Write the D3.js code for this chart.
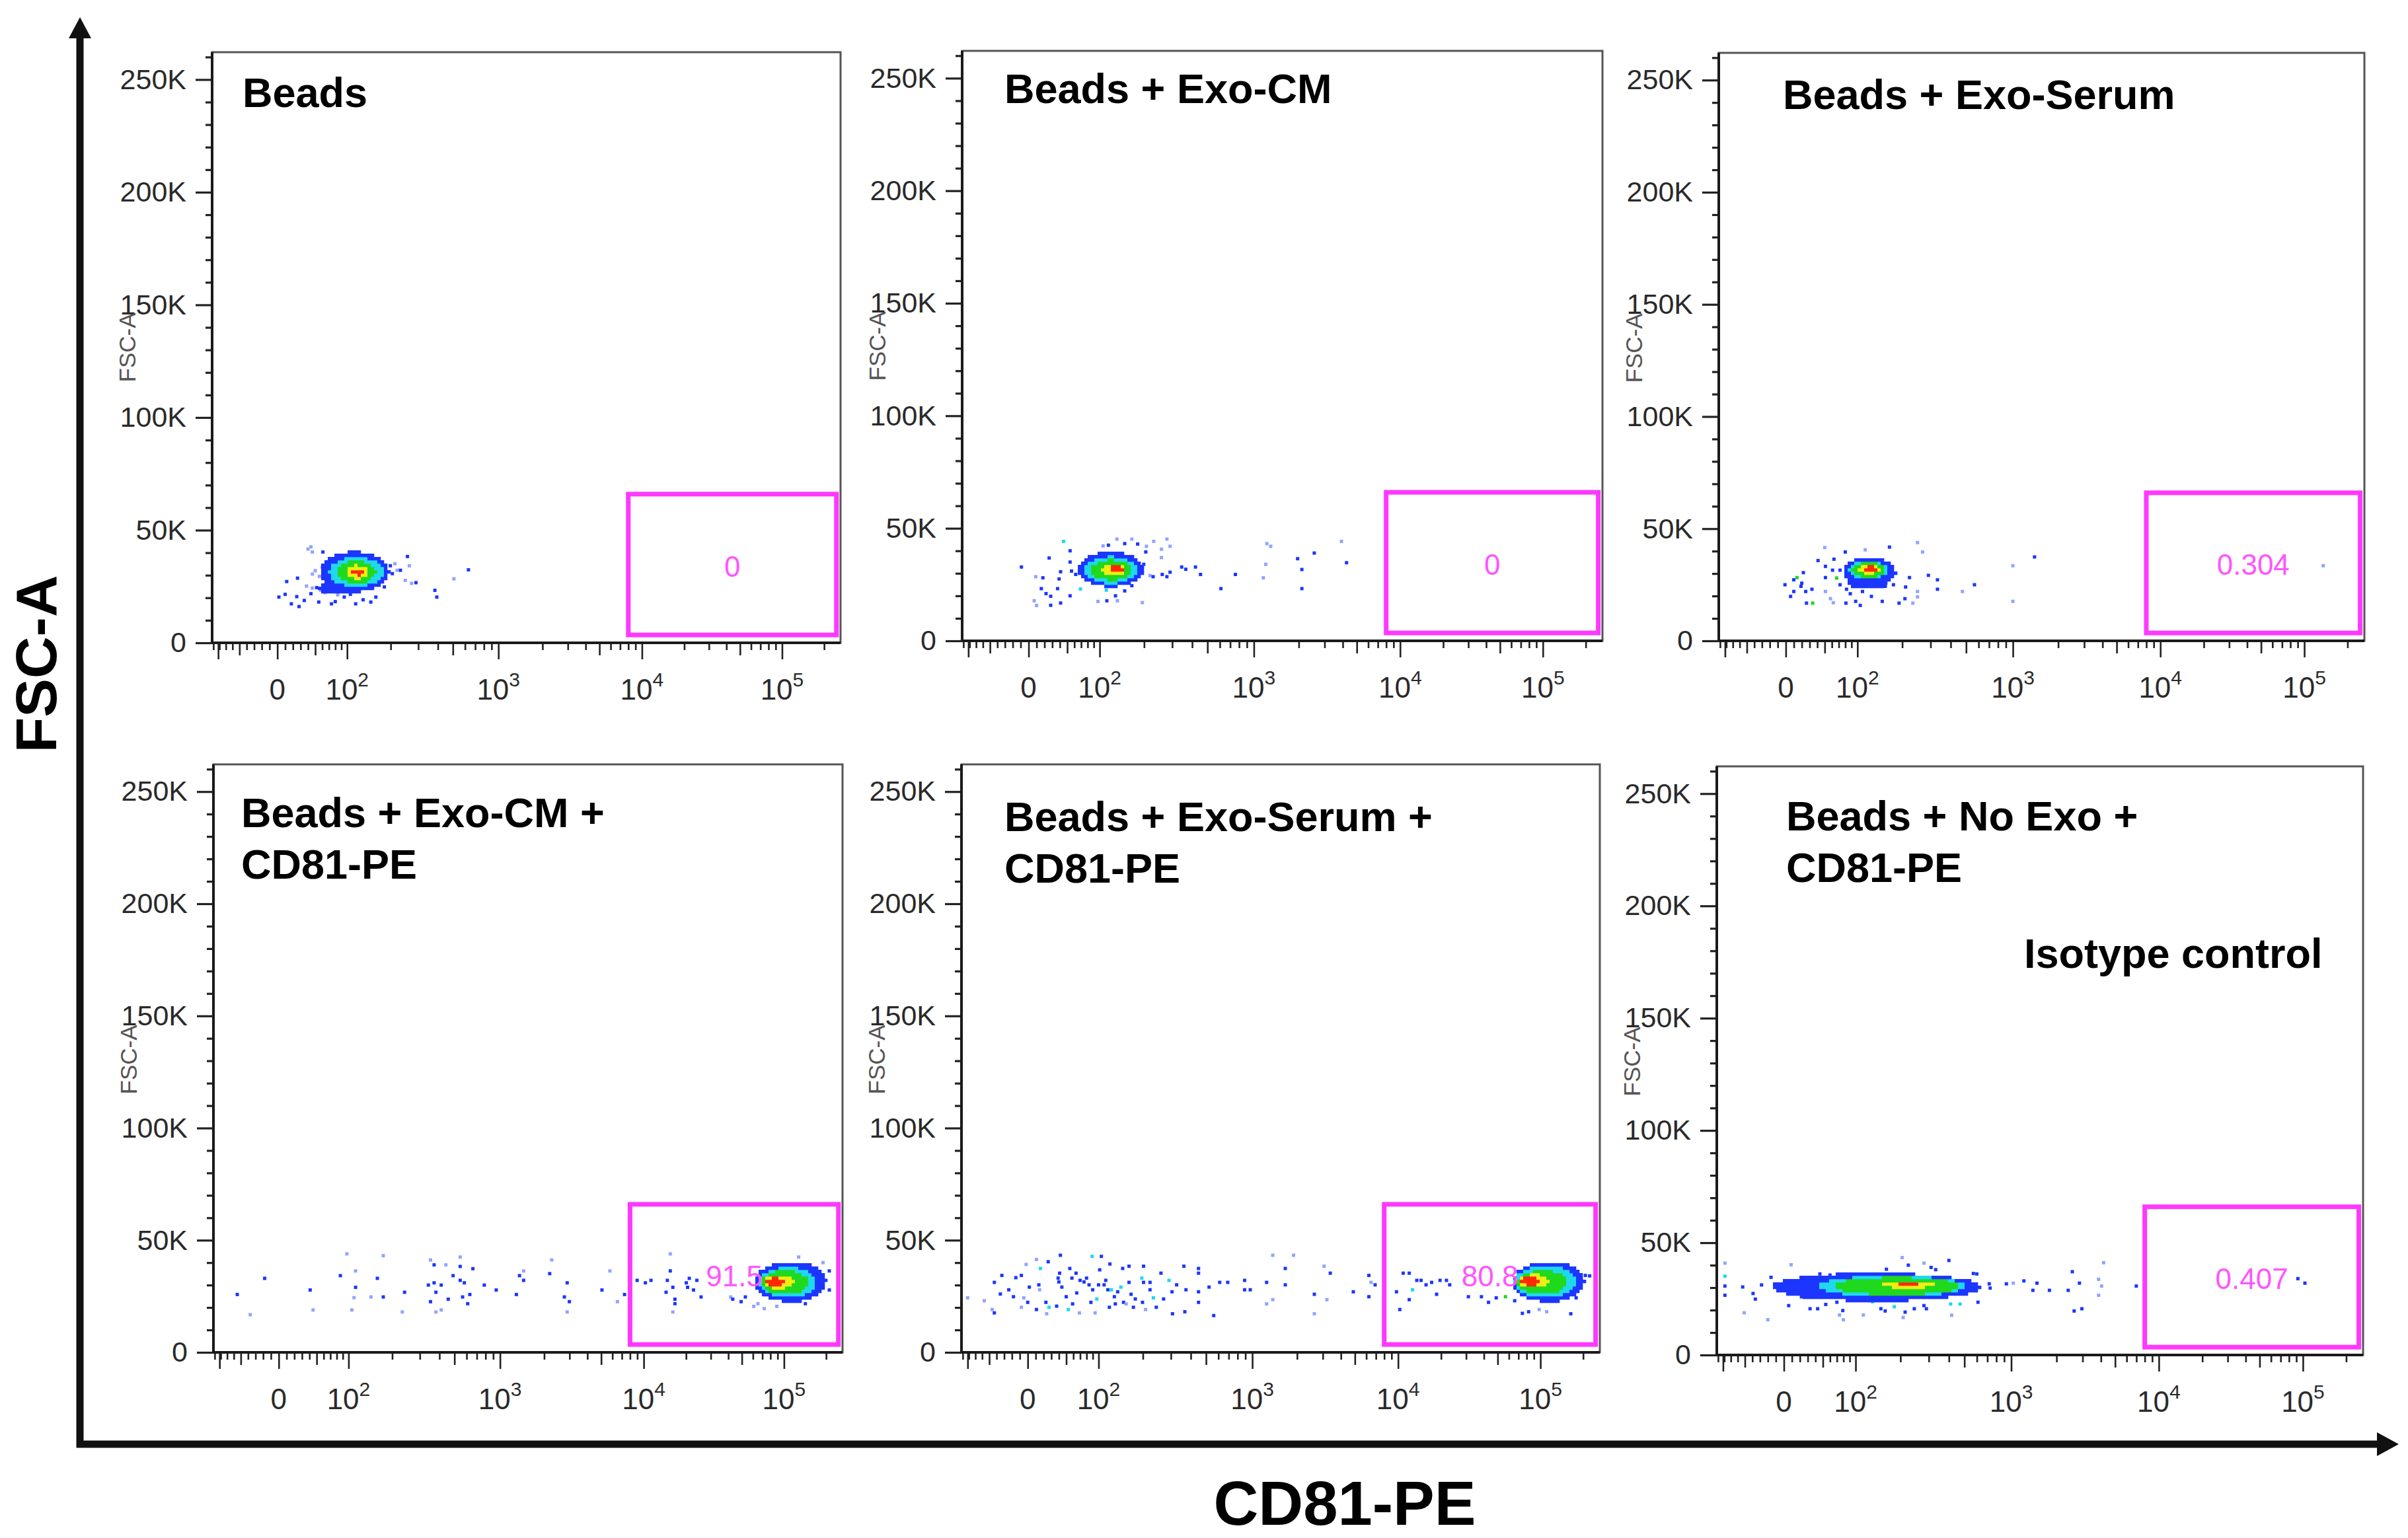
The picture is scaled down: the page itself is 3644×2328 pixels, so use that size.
<!DOCTYPE html>
<html><head><meta charset="utf-8">
<script src="https://cdn.jsdelivr.net/npm/d3@7"></script>
<style>
body{margin:0;background:#fff}
svg{display:block}
text{font-family:"Liberation Sans",Arial,Helvetica,sans-serif}
</style>
</head><body>
<svg id="c" width="3644" height="2328"></svg>
<script>
// ===================== DATA =====================
const panelTitles = [
  ["Beads"],
  ["Beads + Exo-CM"],
  ["Beads + Exo-Serum"],
  ["Beads + Exo-CM +", "CD81-PE"],
  ["Beads + Exo-Serum +", "CD81-PE"],
  ["Beads + No Exo +", "CD81-PE"]
];
const extraNote = "Isotype control";
const gatePercents = ["0", "0", "0.304", "91.5", "80.8", "0.407"];
const gateX = [8000, 245000];       // CD81-PE gate bounds
const gateY = [3500, 66000];        // FSC-A gate bounds
const gateLabelY = 34000;

const yMajorTicks = [0, 50000, 100000, 150000, 200000, 250000];
const yTickLabels = ["0", "50K", "100K", "150K", "200K", "250K"];
const yMinorTicks = [10000,20000,30000,40000,60000,70000,80000,90000,110000,120000,130000,140000,
  160000,170000,180000,190000,210000,220000,230000,240000,260000];

const xMajorTicks = [0, 100, 1000, 10000, 100000];
const xTickLabels = ["0", "10^2", "10^3", "10^4", "10^5"];
const xEdgeTicks = [-82];
const xMidTicks = [-50, 50, 500, 5000, 50000];
const xMinorTicks = [-90,-80,-70,-60,-40,-30,-20,-10,10,20,30,40,60,70,80,90,
  200,300,400,600,700,800,900,2000,3000,4000,6000,7000,8000,9000,
  20000,30000,40000,60000,70000,80000,90000,200000];

const axisLabelX = "CD81-PE";
const axisLabelY = "FSC-A";
const panelAxisLabel = "FSC-A";

// dense population layers: [CD81 low, CD81 high, FSC low, FSC high, density level]
const coreP1 = [[57,195,22500,40500,1],[55,115,21500,27500,1],[70,180,25000,38000,2],[82,160,26500,36300,3],[98,142,28500,34500,4],[108,132,30000,33000,5]];
const coreP2 = [[66,200,24000,39500,1],[76,180,25500,37500,2],[86,165,27000,36000,3],[105,152,29000,34300,4],[118,145,30300,33300,5]];
const coreP3 = [[78,182,24500,37200,1],[82,165,23200,29000,1],[86,162,27700,35600,2],[90,155,28300,35000,3],[102,145,29900,34000,4],[112,137,30900,33200,5]];
const coreP4 = [[62000,200000,22500,40500,1],[66000,170000,24500,38000,2],[69000,150000,26000,36500,3],[72000,118000,28500,34500,4],[75000,102000,29800,33200,5]];
const coreP5 = [[64000,205000,22500,40500,1],[66000,180000,24500,38500,2],[68000,155000,26000,36500,3],[70000,115000,28800,34800,4],[73000,100000,29800,33800,5]];
const coreP6 = [[-15,640,24000,36500,1],[45,510,26000,35300,2],[65,470,26800,34700,3],[150,330,29800,32900,4],[190,260,30600,32300,5]];

// sparse events: [CD81-PE, FSC-A, level(optional: 0 pale, 1 blue, 2 cyan, 3 green)]
const eventsP1 = [[44,42600,0],[40,41600,0],[61,40300],[46,40300,0],[256,38300],[213,35100,0],[220,32200,0],[231,32200],
  [248,27700,0],[272,26400,0],[290,26700],[632,32400],[508,28400,0],[383,23300],[394,20300],[12,27200],[26,28700],
  [10,21500],[2,20300],[25,20500],[18,17300],[28,16100],[35,18800],[44,21800],[55,18100],[74,17300],[80,18300],
  [116,17300],[131,19100],[148,18100],[160,20300],[182,24800],[64,22300,0],[84,21300,0],[46,24300,0],[52,24500],
  [38,25200,0],[58,23300,0],[95,20300],[106,21500],[199,34200],[205,30700],[263,34200,0],
  [46,30500,0],[50,32000,0],[56,29500,0],[60,33500,0],[63,31000,0]];
const eventsP2 = [[-9,32800],[45,44200,2],[26,36800],[54,40000],[54,35000],[41,30700],[9,28500,0],[18,28000],[39,27500],
  [62,29500],[56,31000],[16,23200],[37,23200],[22,21000],[28,19800],[54,20000],[69,23000,2],[41,16800],[7,17800,0],
  [10,15700,0],[28,15800],[97,17500,0],[113,17800],[134,17800,0],[130,20000],[195,17000,0],[112,22500,2],[150,22200],
  [167,24500],[133,45200,0],[167,45200,0],[230,44200,0],[278,45200,0],[291,42000,0],[257,40700,0],[205,39500],
  [207,42000,0],[182,43000],[150,43200],[106,42200,0],[116,42500],[257,37000,0],[199,34000],[218,29000,0],[228,28500],
  [278,28500],[291,30500],[260,29500],[344,32800],[365,31800],[420,32800],[452,29500],[610,23200],[757,29500],
  [1156,28000,0],[1200,34000,0],[1220,43200,0],[1295,42000,0],[1965,36500],[2100,31700],[2100,23200],[2550,39000],
  [3920,44200,0],[4250,34700]];
const eventsP3 = [[50,41600,0],[80,39600],[114,40600,0],[166,41800],[249,43800,0],[268,39600,0],[41,35800],[63,36400],
  [51,33200],[61,31500],[72,31500],[22,30400],[14,28200,3],[10,27200],[-1,25000],[19,24300],[20,25700],[33,23000],
  [10,22000],[25,22000],[6,19800],[51,22000,0],[58,18800,0],[26,16800],[34,16800,3],[62,17000,0],[81,16800],
  [105,15800],[97,17600],[126,19800],[149,17600],[191,16800],[233,16800,0],[208,18800],[249,19600,0],[249,22000,0],
  [210,24000],[176,25000],[156,24300],[109,22000],[88,21000],[82,23000],[72,25000],[51,28200],[222,28200],
  [291,29200],[331,27200],[331,23000],[474,22000,0],[565,25000],[1000,33500,0],[1000,17600,0],[1390,37400],
  [135500,33500,0],[67,28000,3],[125,25000,3]];
const eventsP4 = [[-55,25800],[-37,16800,0],[-18,33000],[41,27800],[45,18900,0],[86,34200],[97,43900,0],[106,18900,0],
  [110,24400,0],[113,36300,0],[113,29000],[145,24700,0],[160,33000],[175,43100,0],[175,24700],[240,26800],
  [232,18000,0],[351,41200,0],[370,39000],[440,39000,0],[340,30000],[370,31000],[411,30000],[380,26800],[351,22600],
  [380,18000,0],[411,18900,0],[456,23700],[490,34200],[545,42500,0],[545,38300],[545,32100],[580,31000],[660,37300],
  [565,24700],[610,21700],[630,25800],[785,30000],[943,27800],[1290,25800],[1355,34200],[1445,32100],[1445,36300,0],
  [2258,41200,0],[2184,35100],[2890,31000],[2763,24700],[2994,22600],[2890,18000,0],[5067,27800],[5765,36300,0],
  [6517,22600,0],[7318,25800],[8982,32100],[10280,31000],[11260,32100],[14420,26800],[14720,32100],[15450,43900,0],
  [15450,36300],[16110,29000],[16670,23700],[16670,21700],[16110,18000,0],[20090,31000],[20510,29000],[21090,33000],
  [22600,27800],[23880,32100],[25590,24700],[41590,24700,0],[43050,23700],[49430,22600],[52970,24700],
  [65160,21700,0],[72280,19500,0],[60810,20500,0],[88920,20500,0],[127350,42500,0],[190100,40000,0],[210900,36300],
  [210900,27800],[199500,32100],[142200,21700],[165600,26800,2],[171400,33000]];
const eventsP5 = [[-82,24300,0],[-57,23000,0],[-46,19100,0],[-43,17600],[-43,31200],[-35,26000],[-33,34300],[-24,27900],
  [-18,24800],[-15,33300],[-8,34300],[-8,20100,0],[-5,24300,0],[-2,39200,0],[0,22300],[2,29100],[11,41400,0],[11,19100],
  [14,30100],[15,27900,0],[16,37400,2],[23,22300],[24,17200,0],[26,40400],[27,20100,2],[37,20600],[39,33100],[40,31400],
  [41,35300],[42,43300],[44,29100],[50,24800],[53,19100,2],[55,37400],[58,33100],[59,21600],[64,35300],[65,26500],
  [69,17600,0],[70,32100],[76,31400],[80,33100],[84,30100],[87,22300],[89,42800,2],[90,27900],[94,17600,0],
  [97,23800,2],[100,30100],[102,36800],[105,42800],[110,30100],[113,32100],[117,27900],[120,20100],[121,39400],
  [124,27900,2],[130,24800],[132,21600],[137,27000],[144,29100,2],[148,37400],[150,22300],[156,21600,0],[163,38400],
  [163,31200],[168,25900],[174,20100],[179,23800],[197,33100,2],[199,22300],[202,38400],[202,31200],[208,19100,0],
  [222,31200],[222,27900],[233,24300,2],[243,20100],[260,35300],[270,23800],[292,32100,2],[305,27000],[307,17200],
  [326,30100],[362,38400],[367,18100],[373,27900],[448,35300],[448,37400],[448,27000],[448,22300],[523,29100],
  [560,16400],[612,31200],[690,31200],[890,32100],[890,27900],[970,27900],[1246,31200],[1246,21600,0],[1370,43300,0],
  [1370,23500,0],[1664,37400],[1664,30100],[1893,43300,0],[2625,25900],[2625,17200,0],[3062,38400,0],[3379,35300],
  [3202,23500,0],[4876,27000],[6256,34300],[6256,24800],[6480,31200,0],[6913,30100],[9750,27000],[10280,19100],
  [10860,35300],[11970,35300],[11970,23500],[12620,27900,2],[13520,32100],[14490,32100],[15700,30100],[17180,31200],
  [18620,25900],[19680,32100],[21830,32100],[23010,30100],[31120,24800],[38460,24800],[43150,22300],[48870,24300],
  [56750,24800,3],[65900,23000],[74650,17400],[82600,18100],[97950,19100,0],[110700,18100,0],[163700,17200],
  [178600,24300],[194100,32100],[207500,34300],[222300,34100]];
const eventsP6 = [[-79,40900,0],[-79,35100,2],[-79,30700],[-79,26600],[-53,30300],[-51,18800,0],[-39,27400],[-36,24900],
  [-28,31200],[-20,15700,0],[-16,34600],[6,22000],[9,40200,0],[9,27400],[22,25900],[33,20600],[43,20600],[54,22500],
  [70,23500],[74,17800,0],[80,15700,0],[79,19800],[114,17800,0],[132,23700,2],[150,20600],[160,19600],[183,21500,2],
  [208,16700,0],[214,19100],[244,20600],[280,22000],[290,20600],[410,22700,2],[416,17700,0],[470,22700,2],
  [610,23500],[600,36100],[570,36300],[205,43400,0],[224,40000],[280,40900,0],[310,39000],[400,42100],[331,38000],
  [163,38200],[46,36100],[60,35600],[720,31700],[730,29800],[930,31700],[1032,32000,0],[1212,33000],[1480,32000],
  [1390,28800],[1792,28800],[2397,28800],[2556,37100],[2857,32000],[2630,19600],[2967,20600],[3857,33700,0],
  [4044,30700,0],[3857,26600,0],[4173,41100,0],[6992,30700],[92260,34000],[103300,32000]];

const coreLayers = [coreP1, coreP2, coreP3, coreP4, coreP5, coreP6];
const panelEvents = [eventsP1, eventsP2, eventsP3, eventsP4, eventsP5, eventsP6];

// ===================== LAYOUT / STYLE =====================
const levelColors = ["#93a4ff", "#1c36ff", "#1fd8ee", "#1fd91f", "#eeee12", "#ff2a00"];
const panels = [
  {L:321,  R:1272, T:79,   B:973,  tx:367,  ty:[162]},
  {L:1456, R:2425, T:77,   B:970,  tx:1520, ty:[156]},
  {L:2601, R:3578, T:80,   B:970,  tx:2698, ty:[165]},
  {L:323,  R:1275, T:1157, B:2047, tx:365,  ty:[1252,1330]},
  {L:1455, R:2421, T:1157, B:2047, tx:1520, ty:[1258,1336]},
  {L:2598, R:3576, T:1160, B:2051, tx:2703, ty:[1257,1335]}
];
const CW = 5, CH = 5;

// ===================== LOGICLE TRANSFORM =====================
const TOP = 262144, MDEC = 4.5, WDEC = 0.467;
function solveP(w){ let lo=1.0001, hi=20; for(let i=0;i<80;i++){ const m=(lo+hi)/2; const f=2*m*Math.log10(m)/(m+1); if(f<w) lo=m; else hi=m; } return (lo+hi)/2; }
const PP = solveP(WDEC);
const A0 = TOP*Math.pow(10, -(MDEC-WDEC));
function S(x){ if(x>=WDEC){ const u=x-WDEC; return A0*(Math.pow(10,u) - PP*PP*Math.pow(10,-u/PP) + PP*PP - 1); } return -S(2*WDEC - x); }
function logicle(v){ let lo=-1, hi=5.5; for(let i=0;i<70;i++){ const m=(lo+hi)/2; if(S(m)<v) lo=m; else hi=m; } return (lo+hi)/2; }

// ===================== DRAW =====================
const svg = d3.select("#c");
svg.append("rect").attr("width",3644).attr("height",2328).attr("fill","#fff");

panels.forEach((p, i) => {
  const g = svg.append("g");
  const xs = d3.scaleLinear().domain([0, MDEC]).range([p.L, p.R]);
  const ys = d3.scaleLinear().domain([0, TOP]).range([p.B, p.T]);

  const clipId = "clip" + i;
  g.append("clipPath").attr("id", clipId).append("rect")
    .attr("x", p.L).attr("y", p.T).attr("width", p.R - p.L).attr("height", p.B - p.T);
  const plot = g.append("g").attr("clip-path", `url(#${clipId})`);

  // sparse events
  plot.append("g").selectAll("rect").data(panelEvents[i]).join("rect")
    .attr("x", d => xs(logicle(d[0])) - 2.5)
    .attr("y", d => ys(d[1]) - 2.5)
    .attr("width", 5).attr("height", 5)
    .attr("fill", d => levelColors[d.length > 2 ? d[2] : 1]);

  // dense core rasterised into bins
  const cells = new Map();
  coreLayers[i].forEach(([xl, xh, yl, yh, lv]) => {
    const x0 = xs(logicle(xl)), x1 = xs(logicle(xh)), y0 = ys(yh), y1 = ys(yl);
    const cx = (x0 + x1) / 2, cy = (y0 + y1) / 2, rx = (x1 - x0) / 2, ry = (y1 - y0) / 2;
    const c0 = Math.floor((x0 - p.L) / CW), c1 = Math.ceil((x1 - p.L) / CW);
    const r0 = Math.floor((p.B - y1) / CH), r1 = Math.ceil((p.B - y0) / CH);
    for (let c = c0; c <= c1; c++) for (let r = r0; r <= r1; r++) {
      const px = p.L + (c + 0.5) * CW, py = p.B - (r + 0.5) * CH;
      const e = ((px - cx) / rx) ** 2 + ((py - cy) / ry) ** 2;
      if (e <= 1) { const k = c + "," + r; if (!cells.has(k) || cells.get(k) < lv) cells.set(k, lv); }
    }
  });
  const cellData = Array.from(cells, ([k, lv]) => { const [c, r] = k.split(",").map(Number); return {c, r, lv}; });
  plot.append("g").selectAll("rect").data(cellData).join("rect")
    .attr("x", d => p.L + d.c * CW).attr("y", d => p.B - (d.r + 1) * CH)
    .attr("width", CW + 0.3).attr("height", CH + 0.3)
    .attr("fill", d => levelColors[d.lv]);

  // frame
  g.append("rect").attr("x", p.L).attr("y", p.T).attr("width", p.R - p.L).attr("height", p.B - p.T)
    .attr("fill", "none").attr("stroke", "#555").attr("stroke-width", 3);

  // y axis
  const yAx = g.append("g").attr("transform", `translate(${p.L},0)`)
    .call(d3.axisLeft(ys).tickValues(yMajorTicks).tickSize(25).tickPadding(14)
      .tickFormat((d, j) => yTickLabels[j]));
  const yAxMinor = g.append("g").attr("transform", `translate(${p.L},0)`)
    .call(d3.axisLeft(ys).tickValues(yMinorTicks).tickSize(10).tickFormat(""));
  [yAx, yAxMinor].forEach(a => { a.select(".domain").remove(); a.selectAll("line").attr("stroke", "#222").attr("stroke-width", 3.2); });
  yAx.selectAll("text").attr("font-size", 43).attr("fill", "#2a2a2a")
    .attr("font-family", '"Liberation Sans", Arial, sans-serif');

  // x axis ticks
  const xAxDefs = [[xMajorTicks, 25], [xEdgeTicks, 25], [xMidTicks, 19], [xMinorTicks, 11]];
  xAxDefs.forEach(([vals, len]) => {
    const a = g.append("g").attr("transform", `translate(0,${p.B})`)
      .call(d3.axisBottom(xs).tickValues(vals.map(logicle).filter(v => v >= 0 && v <= MDEC)).tickSize(len).tickFormat(""));
    a.select(".domain").remove();
    a.selectAll("line").attr("stroke", "#222").attr("stroke-width", 2.6);
  });
  // x tick labels
  xMajorTicks.forEach((v, j) => {
    const parts = xTickLabels[j].split("^");
    const t = g.append("text").attr("x", xs(logicle(v))).attr("y", p.B + 86)
      .attr("text-anchor", "middle").attr("font-size", 44).attr("fill", "#2a2a2a");
    t.append("tspan").text(parts[0]);
    if (parts[1]) t.append("tspan").attr("font-size", 30).attr("dy", -20).text(parts[1]);
  });

  // axis lines (left & bottom, darker)
  g.append("line").attr("x1", p.L).attr("x2", p.L).attr("y1", p.T).attr("y2", p.B).attr("stroke", "#1a1a1a").attr("stroke-width", 4);
  g.append("line").attr("x1", p.L).attr("x2", p.R).attr("y1", p.B).attr("y2", p.B).attr("stroke", "#1a1a1a").attr("stroke-width", 4);

  // small axis name
  g.append("text").attr("transform", `translate(${p.L - 129},${p.T + 447}) rotate(-90)`)
    .attr("text-anchor", "middle").attr("dominant-baseline", "central")
    .attr("font-size", 35).attr("fill", "#555").text(panelAxisLabel);

  // gate
  const gx0 = xs(logicle(gateX[0])), gx1 = xs(logicle(gateX[1]));
  const gy0 = ys(gateY[1]), gy1 = ys(gateY[0]);
  g.append("rect").attr("x", gx0).attr("y", gy0).attr("width", gx1 - gx0).attr("height", gy1 - gy0)
    .attr("fill", "none").attr("stroke", "#ff38ff").attr("stroke-width", 7);
  g.append("text").attr("x", (gx0 + gx1) / 2).attr("y", ys(gateLabelY))
    .attr("text-anchor", "middle").attr("dominant-baseline", "central")
    .attr("font-size", 44).attr("fill", "#ff55ff").text(gatePercents[i]);

  // title
  panelTitles[i].forEach((line, j) => {
    g.append("text").attr("x", p.tx).attr("y", p.ty[j]).attr("font-size", 63)
      .attr("font-weight", "bold").attr("fill", "#000").text(line);
  });
});

// Isotype control note
svg.append("text").attr("x", 3063).attr("y", 1465).attr("font-size", 63).attr("font-weight", "bold").text(extraNote);

// big axes with arrows
const AX = 121, AY = 2186;
svg.append("line").attr("x1", AX).attr("y1", AY + 5).attr("x2", AX).attr("y2", 56).attr("stroke", "#111").attr("stroke-width", 11);
svg.append("polygon").attr("points", `${AX},26 ${AX-17},58 ${AX+17},58`).attr("fill", "#111");
svg.append("line").attr("x1", AX - 5).attr("y1", AY).attr("x2", 3598).attr("y2", AY).attr("stroke", "#111").attr("stroke-width", 11);
svg.append("polygon").attr("points", `3630,${AY} 3597,${AY-18} 3597,${AY+18}`).attr("fill", "#111");

svg.append("text").attr("x", 2035).attr("y", 2308).attr("text-anchor", "middle")
  .attr("font-size", 94).attr("font-weight", "bold").text(axisLabelX);
svg.append("text").attr("transform", "translate(54,1005) rotate(-90)")
  .attr("text-anchor", "middle").attr("dominant-baseline", "central")
  .attr("font-size", 88).attr("font-weight", "bold").text(axisLabelY);
</script>
</body></html>
